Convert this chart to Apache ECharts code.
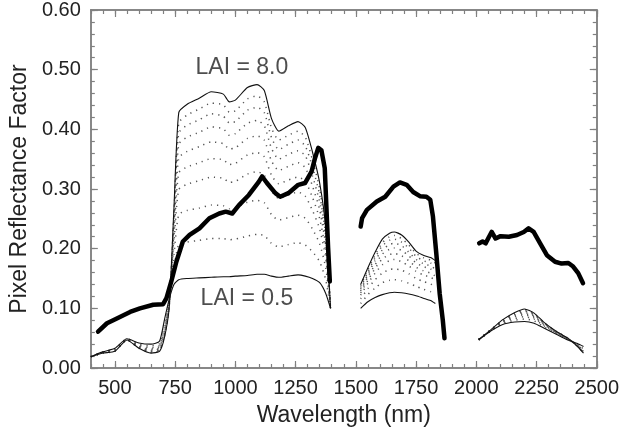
<!DOCTYPE html>
<html>
<head>
<meta charset="utf-8">
<script src="https://cdn.jsdelivr.net/npm/echarts@6/dist/echarts.min.js"></script>
<style>
  html, body { margin: 0; padding: 0; background: #fff; }
  #chart { width: 622px; height: 442px; }
</style>
</head>
<body>
<div id="chart"></div>
<script>
// wavelength grids (nm) for the three bands shown
const wlNir = [400, 450, 500, 550, 600, 650, 685, 705, 725, 745, 765, 800, 850, 900, 950, 975, 1000, 1050, 1090, 1120, 1150, 1180, 1220, 1260, 1290, 1320, 1350, 1375, 1395]
const wlSwir1 = [1520, 1550, 1580, 1610, 1640, 1660, 1690, 1720, 1750, 1780, 1810, 1830]
const wlSwir2 = [2010, 2060, 2110, 2160, 2200, 2240, 2280, 2330, 2380, 2420, 2445]

// LAI = 0.5 (solid)
const lai05Nir = [0.019, 0.027, 0.033, 0.049, 0.042, 0.040, 0.045, 0.080, 0.115, 0.140, 0.148, 0.150, 0.151, 0.152, 0.153, 0.153, 0.154, 0.155, 0.157, 0.157, 0.154, 0.152, 0.154, 0.156, 0.154, 0.150, 0.143, 0.125, 0.100]
const lai05Swir1 = [0.100, 0.111, 0.118, 0.123, 0.126, 0.127, 0.126, 0.124, 0.121, 0.117, 0.113, 0.108]
const lai05Swir2 = [0.047, 0.062, 0.073, 0.077, 0.078, 0.075, 0.067, 0.057, 0.047, 0.041, 0.036]

// intermediate LAI (dotted)
const lai1Nir = [0.019, 0.027, 0.032, 0.049, 0.040, 0.037, 0.041, 0.074, 0.112, 0.167, 0.207, 0.211, 0.214, 0.217, 0.217, 0.215, 0.216, 0.221, 0.224, 0.222, 0.209, 0.203, 0.207, 0.210, 0.206, 0.195, 0.178, 0.148, 0.100]
const lai1Swir1 = [0.108, 0.123, 0.134, 0.143, 0.147, 0.148, 0.146, 0.142, 0.137, 0.132, 0.128, 0.123]
const lai1Swir2 = [0.047, 0.062, 0.075, 0.080, 0.082, 0.079, 0.069, 0.058, 0.048, 0.040, 0.034]

const lai15Nir = [0.019, 0.026, 0.031, 0.048, 0.038, 0.034, 0.038, 0.068, 0.109, 0.190, 0.257, 0.264, 0.268, 0.273, 0.272, 0.267, 0.269, 0.278, 0.281, 0.277, 0.257, 0.248, 0.252, 0.256, 0.251, 0.233, 0.208, 0.168, 0.100]
const lai15Swir1 = [0.116, 0.133, 0.148, 0.159, 0.165, 0.166, 0.164, 0.158, 0.150, 0.145, 0.141, 0.136]
const lai15Swir2 = [0.047, 0.063, 0.076, 0.083, 0.086, 0.082, 0.071, 0.059, 0.048, 0.039, 0.032]

const lai2Nir = [0.019, 0.026, 0.030, 0.048, 0.037, 0.032, 0.036, 0.064, 0.107, 0.209, 0.299, 0.308, 0.314, 0.320, 0.318, 0.311, 0.313, 0.325, 0.329, 0.323, 0.297, 0.284, 0.290, 0.295, 0.288, 0.264, 0.233, 0.184, 0.100]
const lai2Swir1 = [0.122, 0.142, 0.159, 0.173, 0.180, 0.182, 0.178, 0.171, 0.162, 0.156, 0.152, 0.147]
const lai2Swir2 = [0.047, 0.063, 0.077, 0.086, 0.089, 0.084, 0.072, 0.060, 0.049, 0.038, 0.030]

const lai3Nir = [0.019, 0.026, 0.030, 0.048, 0.036, 0.030, 0.034, 0.061, 0.105, 0.222, 0.327, 0.337, 0.344, 0.351, 0.349, 0.341, 0.343, 0.357, 0.361, 0.354, 0.323, 0.309, 0.315, 0.320, 0.313, 0.286, 0.250, 0.195, 0.100]
const lai3Swir1 = [0.126, 0.147, 0.167, 0.183, 0.190, 0.192, 0.188, 0.180, 0.169, 0.163, 0.159, 0.154]
const lai3Swir2 = [0.048, 0.063, 0.078, 0.087, 0.091, 0.086, 0.073, 0.060, 0.049, 0.038, 0.029]

const lai4Nir = [0.019, 0.026, 0.029, 0.048, 0.035, 0.029, 0.033, 0.058, 0.104, 0.233, 0.352, 0.363, 0.371, 0.379, 0.376, 0.367, 0.369, 0.385, 0.389, 0.382, 0.347, 0.331, 0.338, 0.344, 0.336, 0.305, 0.265, 0.205, 0.100]
const lai4Swir1 = [0.129, 0.153, 0.173, 0.191, 0.199, 0.201, 0.197, 0.188, 0.176, 0.170, 0.166, 0.161]
const lai4Swir2 = [0.048, 0.063, 0.079, 0.089, 0.093, 0.087, 0.074, 0.061, 0.049, 0.037, 0.028]

const lai5Nir = [0.019, 0.025, 0.029, 0.047, 0.035, 0.028, 0.031, 0.056, 0.103, 0.244, 0.375, 0.387, 0.395, 0.404, 0.401, 0.390, 0.393, 0.410, 0.415, 0.406, 0.368, 0.350, 0.358, 0.364, 0.356, 0.322, 0.278, 0.214, 0.100]
const lai5Swir1 = [0.132, 0.157, 0.180, 0.198, 0.207, 0.209, 0.205, 0.194, 0.182, 0.175, 0.171, 0.166]
const lai5Swir2 = [0.048, 0.064, 0.079, 0.090, 0.095, 0.089, 0.075, 0.061, 0.049, 0.037, 0.027]

const lai6Nir = [0.019, 0.025, 0.029, 0.047, 0.034, 0.027, 0.030, 0.054, 0.102, 0.253, 0.394, 0.407, 0.416, 0.426, 0.422, 0.411, 0.413, 0.432, 0.437, 0.428, 0.386, 0.366, 0.375, 0.382, 0.372, 0.337, 0.290, 0.222, 0.100]
const lai6Swir1 = [0.135, 0.161, 0.185, 0.205, 0.214, 0.216, 0.211, 0.201, 0.187, 0.180, 0.176, 0.171]
const lai6Swir2 = [0.048, 0.064, 0.080, 0.091, 0.096, 0.090, 0.076, 0.061, 0.050, 0.037, 0.026]

const lai7Nir = [0.019, 0.025, 0.028, 0.047, 0.033, 0.026, 0.029, 0.052, 0.101, 0.260, 0.411, 0.424, 0.434, 0.444, 0.441, 0.429, 0.431, 0.451, 0.456, 0.446, 0.402, 0.382, 0.390, 0.397, 0.387, 0.349, 0.300, 0.228, 0.100]
const lai7Swir1 = [0.138, 0.165, 0.189, 0.210, 0.220, 0.222, 0.217, 0.206, 0.192, 0.185, 0.181, 0.176]
const lai7Swir2 = [0.048, 0.064, 0.080, 0.092, 0.098, 0.091, 0.076, 0.062, 0.050, 0.036, 0.026]

// LAI = 8.0 (solid)
const lai8Nir = [0.019, 0.025, 0.028, 0.047, 0.033, 0.025, 0.028, 0.050, 0.100, 0.268, 0.428, 0.442, 0.452, 0.463, 0.459, 0.446, 0.449, 0.470, 0.475, 0.465, 0.418, 0.397, 0.406, 0.413, 0.403, 0.362, 0.310, 0.235, 0.100]
const lai8Swir1 = [0.140, 0.168, 0.194, 0.216, 0.226, 0.228, 0.223, 0.211, 0.196, 0.189, 0.185, 0.180]
const lai8Swir2 = [0.048, 0.064, 0.081, 0.093, 0.099, 0.092, 0.077, 0.062, 0.050, 0.036, 0.025]

// measured pixel (thick line)
const pixWlNir = [430, 467, 508, 563, 604, 659, 700, 714, 734, 755, 782, 810, 851, 892, 933, 960, 987, 1015, 1056, 1097, 1111, 1131, 1166, 1186, 1220, 1261, 1289, 1316, 1330, 1344, 1357, 1371, 1378, 1385, 1392]
const pixNir = [0.061, 0.075, 0.083, 0.094, 0.100, 0.106, 0.107, 0.117, 0.145, 0.178, 0.212, 0.223, 0.234, 0.251, 0.259, 0.262, 0.259, 0.273, 0.290, 0.312, 0.321, 0.310, 0.293, 0.287, 0.293, 0.307, 0.310, 0.329, 0.351, 0.369, 0.365, 0.335, 0.268, 0.201, 0.145]
const pixWlSwir1 = [1520, 1526, 1546, 1587, 1622, 1656, 1683, 1711, 1738, 1766, 1793, 1809, 1820, 1834, 1848, 1861, 1868]
const pixSwir1 = [0.237, 0.251, 0.265, 0.279, 0.287, 0.304, 0.311, 0.307, 0.295, 0.288, 0.287, 0.282, 0.254, 0.192, 0.125, 0.080, 0.050]
const pixWlSwir2 = [2012, 2026, 2039, 2053, 2064, 2080, 2101, 2135, 2169, 2197, 2217, 2238, 2265, 2293, 2327, 2354, 2382, 2402, 2423, 2443]
const pixSwir2 = [0.209, 0.212, 0.209, 0.220, 0.228, 0.217, 0.221, 0.220, 0.223, 0.228, 0.234, 0.228, 0.209, 0.189, 0.178, 0.175, 0.176, 0.170, 0.159, 0.142]

const xMajor = [500, 750, 1000, 1250, 1500, 1750, 2000, 2250, 2500]
const annotations = [
  { text: 'LAI = 8.0', x: 1027, y: 0.503 },
  { text: 'LAI = 0.5', x: 1048, y: 0.116 }
]

// three bands joined with gaps (water absorption bands left empty)
function bands (parts) {
  let out = []
  parts.forEach((p, i) => {
    if (i > 0) out.push([p[0][0] - 1, '-'])
    p[0].forEach((w, k) => out.push([w, p[1][k]]))
  })
  return out
}

const dotted = [
  [lai1Nir, lai1Swir1, lai1Swir2],
  [lai15Nir, lai15Swir1, lai15Swir2],
  [lai2Nir, lai2Swir1, lai2Swir2],
  [lai3Nir, lai3Swir1, lai3Swir2],
  [lai4Nir, lai4Swir1, lai4Swir2],
  [lai5Nir, lai5Swir1, lai5Swir2],
  [lai6Nir, lai6Swir1, lai6Swir2],
  [lai7Nir, lai7Swir1, lai7Swir2]
]

const FONT = 'Liberation Sans, Arial, sans-serif'
const AXIS_COLOR = '#808080'
const TEXT_COLOR = '#222'

function laiSeries (v, style) {
  return {
    type: 'line',
    showSymbol: false,
    silent: true,
    smooth: 0.2,
    lineStyle: style,
    data: bands([[wlNir, v[0]], [wlSwir1, v[1]], [wlSwir2, v[2]]]),
    z: 2
  }
}

let series = []
dotted.forEach(v => {
  series.push(laiSeries(v, { color: '#555', width: 1.5, type: [1.2, 5], cap: 'butt' }))
})
series.push(laiSeries([lai05Nir, lai05Swir1, lai05Swir2], { color: '#111', width: 1.1 }))
series.push(laiSeries([lai8Nir, lai8Swir1, lai8Swir2], { color: '#111', width: 1.1 }))
series.push({
  type: 'line',
  showSymbol: false,
  silent: true,
  lineStyle: { color: '#000', width: 4.5, join: 'round', cap: 'round' },
  data: bands([[pixWlNir, pixNir], [pixWlSwir1, pixSwir1], [pixWlSwir2, pixSwir2]]),
  z: 3
})
series.push({
  type: 'scatter',
  symbolSize: 0,
  silent: true,
  data: annotations.map(a => ({ value: [a.x, a.y], name: a.text })),
  label: {
    show: true,
    position: 'inside',
    formatter: p => p.name,
    fontSize: 23,
    fontFamily: FONT,
    color: TEXT_COLOR
  },
  z: 4
})

function xAx (pos, major, withLabels) {
  return {
    type: 'value',
    position: pos,
    min: 400,
    max: 2500,
    interval: 50,
    name: withLabels ? 'Wavelength (nm)' : '',
    nameLocation: 'middle',
    nameGap: 36,
    nameTextStyle: { fontSize: 23, fontFamily: FONT, color: TEXT_COLOR },
    axisLine: { show: true, onZero: false, lineStyle: { color: AXIS_COLOR, width: 1.5 } },
    axisTick: major
      ? { show: true, inside: true, length: 7, customValues: xMajor, lineStyle: { color: AXIS_COLOR, width: 1.2 } }
      : { show: true, inside: true, length: 4, lineStyle: { color: AXIS_COLOR, width: 1.2 } },
    axisLabel: withLabels
      ? { show: true, customValues: xMajor, margin: 10, fontSize: 20, fontFamily: FONT, color: TEXT_COLOR, formatter: v => String(v) }
      : { show: false },
    splitLine: { show: false }
  }
}

function yAx (pos, major, withLabels) {
  return {
    type: 'value',
    position: pos,
    min: 0,
    max: 0.6,
    interval: major ? 0.1 : 0.02,
    name: withLabels ? 'Pixel Reflectance Factor' : '',
    nameLocation: 'middle',
    nameGap: 58,
    nameTextStyle: { fontSize: 23, fontFamily: FONT, color: TEXT_COLOR },
    axisLine: { show: true, onZero: false, lineStyle: { color: AXIS_COLOR, width: 1.5 } },
    axisTick: { show: true, inside: true, length: major ? 7 : 4, lineStyle: { color: AXIS_COLOR, width: 1.2 } },
    axisLabel: withLabels
      ? { show: true, margin: 10, fontSize: 20, fontFamily: FONT, color: TEXT_COLOR, formatter: v => v.toFixed(2) }
      : { show: false },
    splitLine: { show: false }
  }
}

let myChart = echarts.init(document.getElementById('chart'))
let option = {
  animation: false,
  backgroundColor: '#fff',
  grid: { left: 89, right: 22, top: 10, bottom: 74, containLabel: false },
  xAxis: [
    xAx('bottom', true, true),
    xAx('bottom', false, false),
    xAx('top', true, false),
    xAx('top', false, false)
  ],
  yAxis: [
    yAx('left', true, true),
    yAx('left', false, false),
    yAx('right', true, false),
    yAx('right', false, false)
  ],
  series: series
}
myChart.setOption(option, true)
</script>
</body>
</html>
